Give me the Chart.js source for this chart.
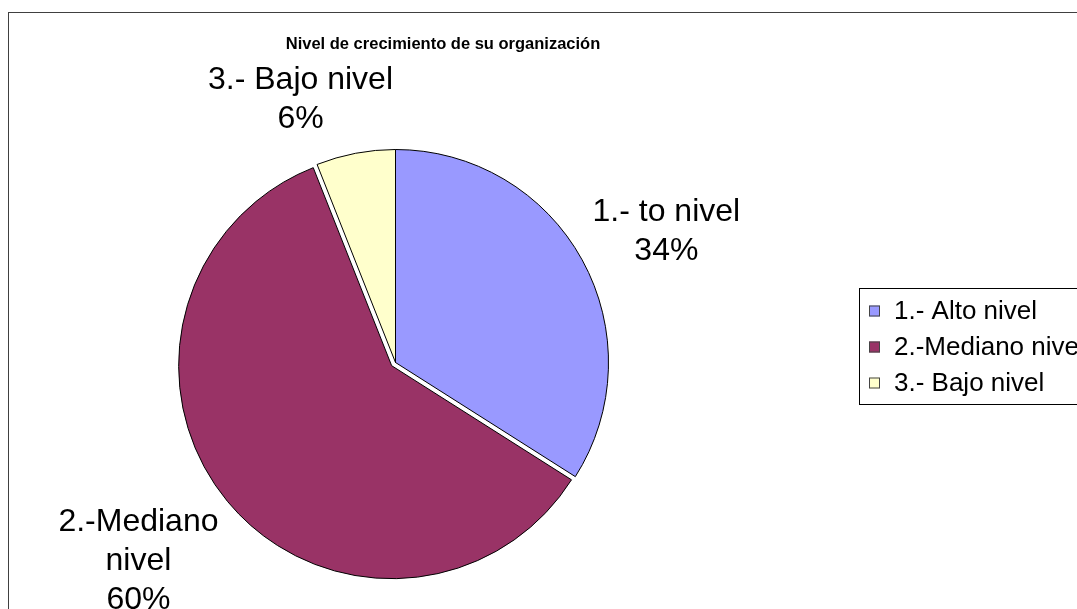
<!DOCTYPE html>
<html lang="es">
<head>
    <meta charset="UTF-8">
    <title>Nivel de crecimiento de su organización</title>
    <style>
        html, body { margin: 0; padding: 0; background: #fff; overflow: hidden; }
        #wrap { width: 1077px; height: 609px; }
    </style>
</head>
<body>
    <div id="wrap"><canvas id="myChart" width="1077" height="609"></canvas></div>

    <script src="https://cdn.jsdelivr.net/npm/chart.js@4.4.0/dist/chart.umd.min.js"></script>
    <script>
        // data
        var categories = ['1.- Alto nivel', '2.-Mediano nivel', '3.- Bajo nivel'];
        var sliceLabels = [['1.- to nivel'], ['2.-Mediano', 'nivel'], ['3.- Bajo nivel']];
        var values = [34, 60, 6];
        var colors = ['#9999FF', '#993366', '#FFFFCC'];
        var titleText = 'Nivel de crecimiento de su organización';

        var FONT = '"Liberation Sans", Arial, sans-serif';

        // frame + title + outside labels + legend box, Excel style
        var excelBits = {
            id: 'excelBits',
            afterDatasetsUpdate: function (chart) {
                // pull the exploded slice out without changing its radius
                var explode = [0, 5, 0];
                chart.getDatasetMeta(0).data.forEach(function (arc, i) {
                    if (!explode[i]) return;
                    var mid = (arc.startAngle + arc.endAngle) / 2;
                    arc.x += Math.cos(mid) * explode[i];
                    arc.y += Math.sin(mid) * explode[i];
                });
            },
            beforeDraw: function (chart) {
                var ctx = chart.ctx;
                ctx.save();
                ctx.fillStyle = '#fff';
                ctx.fillRect(0, 0, chart.width, chart.height);
                ctx.strokeStyle = '#404040';
                ctx.lineWidth = 1;
                ctx.strokeRect(8.5, 12.5, 2000, 2000);
                ctx.restore();
            },
            afterDraw: function (chart) {
                var ctx = chart.ctx;
                ctx.save();

                // title
                ctx.fillStyle = '#000';
                ctx.font = 'bold 16.5px ' + FONT;
                ctx.textAlign = 'center';
                ctx.textBaseline = 'middle';
                ctx.fillText(titleText, 443, 44);

                // slice labels
                var total = values.reduce(function (a, b) { return a + b; }, 0);
                var nudge = [[2, 0], [-12, 10], [-34, 4]];
                var lh = 39;
                ctx.font = '32px ' + FONT;
                chart.getDatasetMeta(0).data.forEach(function (arc, i) {
                    var p = arc.getProps(['x', 'y', 'startAngle', 'endAngle', 'outerRadius'], true);
                    var mid = (p.startAngle + p.endAngle) / 2;
                    var ux = Math.cos(mid), uy = Math.sin(mid);
                    var lines = sliceLabels[i].concat([Math.round(values[i] / total * 100) + '%']);
                    var w = 0;
                    lines.forEach(function (l) { w = Math.max(w, ctx.measureText(l).width); });
                    var h = lines.length * lh;
                    var r = p.outerRadius + 20;
                    var cx = p.x + ux * r + ux * w / 2 + nudge[i][0];
                    var cy = p.y + uy * r + uy * h / 2 + nudge[i][1];
                    lines.forEach(function (l, k) {
                        ctx.fillText(l, cx, cy - h / 2 + lh / 2 + k * lh);
                    });
                });

                // legend
                var lx = 859, ly = 288, rowH = 36;
                ctx.strokeStyle = '#000';
                ctx.lineWidth = 1;
                ctx.strokeRect(lx + 0.5, ly + 0.5, 400, 116);
                ctx.font = '26px ' + FONT;
                ctx.textAlign = 'left';
                categories.forEach(function (c, i) {
                    var y = ly + 23.5 + i * rowH;
                    ctx.fillStyle = colors[i];
                    ctx.fillRect(lx + 10, y - 6, 11, 11);
                    ctx.strokeStyle = '#444';
                    ctx.strokeRect(lx + 10.5, y - 5.5, 10, 10);
                    ctx.fillStyle = '#000';
                    ctx.fillText(c, lx + 35, y);
                });
                ctx.restore();
            }
        };

        var ctx = document.getElementById('myChart').getContext('2d');
        var piechart = new Chart(ctx, {
            type: 'pie',
            data: {
                labels: categories,
                datasets: [{
                    data: values,
                    backgroundColor: colors,
                    borderColor: '#000',
                    borderWidth: 1
                }]
            },
            options: {
                responsive: false,
                animation: false,
                layout: { padding: { left: 182, right: 468, top: 149, bottom: 33 } },
                plugins: {
                    legend: { display: false },
                    tooltip: { enabled: false }
                }
            },
            plugins: [excelBits]
        });
    </script>
</body>
</html>
